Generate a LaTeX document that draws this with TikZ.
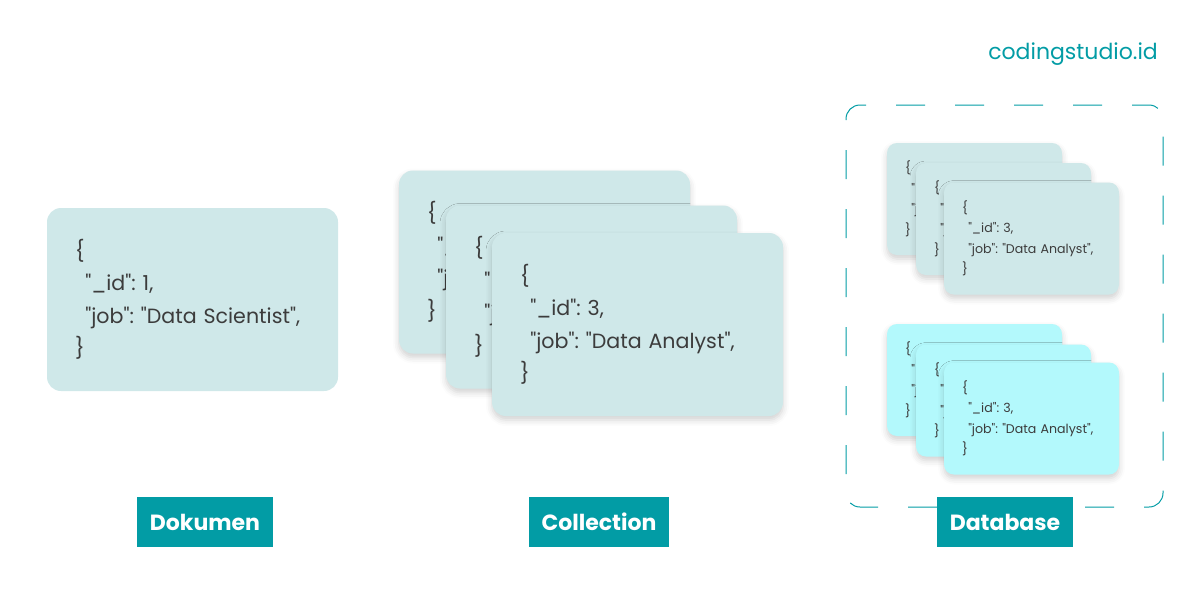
\documentclass[tikz,border=0pt]{standalone}
\usepackage{fontspec}
\setmainfont{Poppins}[Ligatures=TeXOff]
\usetikzlibrary{shadows.blur}
\frenchspacing

\definecolor{brandteal}{HTML}{029CA5}
\definecolor{cardgray}{HTML}{CFE8E9}
\definecolor{cardcyan}{HTML}{B3F9FC}
\definecolor{codetext}{HTML}{3C3C3C}

\newcommand{\jsonlines}[2]{\{\\\hspace*{0.5em}"\_id": #1,\\\hspace*{0.5em}"job": "#2",\\\}}

\begin{document}
\begin{tikzpicture}[x=1pt, y=-1pt,
    card/.style={rectangle, rounded corners=14pt, fill=cardgray, text=codetext,
        minimum width=291pt, minimum height=183pt, text width=235pt,
        inner xsep=28pt, align=left, font=\fontsize{20.6}{32.5}\selectfont},
    minicard/.style={rectangle, rounded corners=10pt, fill=cardgray, text=codetext,
        minimum width=175pt, minimum height=112pt, text width=139pt,
        inner xsep=18pt, align=left, font=\fontsize{12.6}{20.5}\selectfont},
    soft/.style={blur shadow={shadow xshift=0pt, shadow yshift=-4pt,
        shadow blur radius=6pt, shadow opacity=18}},
    tag/.style={rectangle, fill=brandteal, text=white, minimum height=50pt,
        inner xsep=13pt, font=\fontsize{22}{24}\selectfont\bfseries}]
    % Frame
    \useasboundingbox (0,0) rectangle (1200,600);

    % Brand
    \node[anchor=base east, inner sep=0pt, text=brandteal,
        font=\fontsize{22}{24}\selectfont] (brand) at (1158,59) {codingstudio.id};

    % Dokumen
    \node[card] (doc) at (192.5,299.5) {\jsonlines{1}{Data Scientist}};

    % Collection
    \node[card, soft] (coll1) at (544.5,262) {\jsonlines{1}{Data Scientist}};
    \node[card, soft] (coll2) at (591.5,297) {\jsonlines{2}{Data Analyst}};
    \node[card, soft] (coll3) at (637.5,324.5) {\jsonlines{3}{Data Analyst}};

    % Database
    \node[rectangle, draw=brandteal, line width=1pt, rounded corners=14pt,
        dash pattern=on 29pt off 30pt, dash phase=12pt,
        minimum width=317pt, minimum height=402pt] (db) at (1004.5,306) {};
    \node[minicard, soft] (dbA1) at (974.5,199) {\jsonlines{1}{Data Scientist}};
    \node[minicard, soft] (dbA2) at (1003.5,219) {\jsonlines{2}{Data Analyst}};
    \node[minicard, soft] (dbA3) at (1031.5,238.5) {\jsonlines{3}{Data Analyst}};
    \node[minicard, soft, fill=cardcyan] (dbB1) at (974.5,380) {\jsonlines{1}{Data Scientist}};
    \node[minicard, soft, fill=cardcyan] (dbB2) at (1003.5,400.5) {\jsonlines{2}{Data Analyst}};
    \node[minicard, soft, fill=cardcyan] (dbB3) at (1031.5,418.5) {\jsonlines{3}{Data Analyst}};

    % Labels
    \node[tag] (docTag) at (205,522) {Dokumen};
    \node[tag] (collTag) at (599,522) {Collection};
    \node[tag] (dbTag) at (1005,522) {Database};
\end{tikzpicture}
\end{document}
